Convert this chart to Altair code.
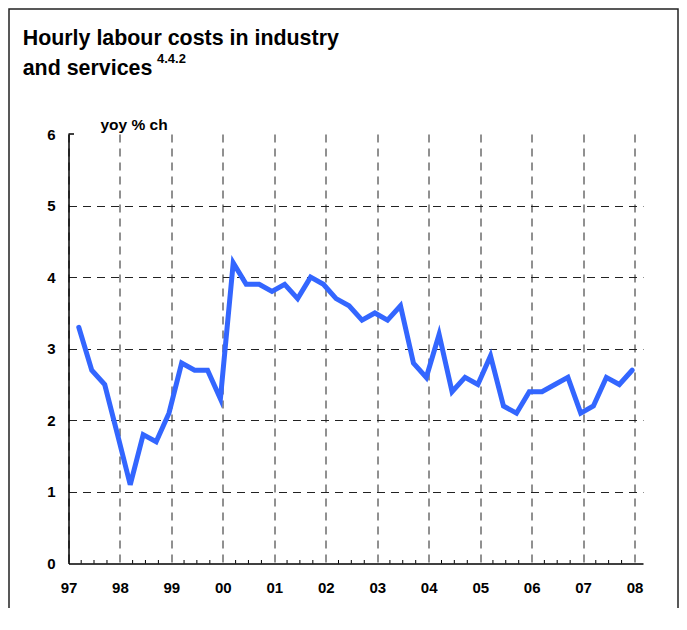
import altair as alt
import pandas as pd

# ---- data -------------------------------------------------------------
years = list(range(1997, 2008))
quarters = [f"{y}Q{q}" for y in years for q in (1, 2, 3, 4)]
values = [3.3, 2.7, 2.5, 1.8, 1.1, 1.8, 1.7, 2.1, 2.8, 2.7, 2.7, 2.3,
          4.2, 3.9, 3.9, 3.8, 3.9, 3.7, 4.0, 3.9, 3.7, 3.6, 3.4, 3.5,
          3.4, 3.6, 2.8, 2.6, 3.2, 2.4, 2.6, 2.5, 2.9, 2.2, 2.1, 2.4,
          2.4, 2.5, 2.6, 2.1, 2.2, 2.6, 2.5, 2.7]
year_labels = list(range(1997, 2009))
y_ticks = [0, 1, 2, 3, 4, 5, 6]

title_lines = ["Hourly labour costs in industry", "and services"]
title_sup = "4.4.2"
unit_label = "yoy % ch"


def q_date(label):
    y, q = label.split("Q")
    return f"{y}-{3 * int(q):02d}-15"


df = pd.DataFrame({"date": [q_date(q) for q in quarters], "value": values})
tick_dates = [f"{y}-{m:02d}-01" for y in years for m in (4, 7, 10)]
df_ticks = pd.DataFrame({"date": tick_dates})
df_top = pd.DataFrame({"value": [6]})

# ---- layout ------------------------------------------------------------
W, H = 574.5, 429.5
FONT = "Liberation Sans"
BLUE = "#3366FF"
GRID = "#222222"

xscale = alt.Scale(domain=[alt.DateTime(year=1997, month=1, date=1),
                           alt.DateTime(year=2008, month=3, date=1)])
yscale = alt.Scale(domain=[0, 6], nice=False, zero=True)

x_axis = alt.Axis(
    values=[alt.DateTime(year=y, month=1, date=1) for y in year_labels],
    format="%y", title=None, labelAngle=0, labelFlush=False,
    labelFont=FONT, labelFontSize=15, labelFontWeight="bold", labelColor="black",
    labelPadding=17, labelOverlap=False,
    ticks=False, domainColor="black", domainWidth=1.5,
    grid=True, gridDash=[8, 6], gridColor=GRID, gridWidth=1,
)
y_axis = alt.Axis(
    values=y_ticks, format="d", title=unit_label, titleAngle=0, titleX=31.5, titleY=-4.7,
    titleAlign="left", titleBaseline="alphabetic", titleFont=FONT,
    titleFontSize=15.5, titleFontWeight="bold", titleColor="black",
    labelFont=FONT, labelFontSize=15, labelFontWeight="bold", labelColor="black",
    labelPadding=13.5, ticks=False, domainColor="black", domainWidth=1.5,
    grid=True, gridDash=[8, 6], gridColor=GRID, gridWidth=1,
    gridOpacity={"condition": {"test": "datum.value == 6 || datum.value == 0", "value": 0}, "value": 1},
)

line = alt.Chart(df).mark_line(
    color=BLUE, strokeWidth=5, strokeJoin="miter", strokeCap="round"
).encode(
    x=alt.X("date:T", scale=xscale, axis=x_axis),
    y=alt.Y("value:Q", scale=yscale, axis=y_axis),
)

qticks = alt.Chart(df_ticks).mark_rule(color="black", strokeWidth=1).encode(
    x=alt.X("date:T"),
    y=alt.value(H),
    y2=alt.value(H - 3.5),
)

top_tick = alt.Chart(df_top).mark_rule(color="black", strokeWidth=1.5).encode(
    y=alt.Y("value:Q"),
    x=alt.value(0),
    x2=alt.value(5.5),
)

t1 = alt.Chart(df_top).mark_text(
    text=title_lines[0], font=FONT, fontSize=21.4, fontWeight="bold",
    align="left", baseline="alphabetic", color="black"
).encode(x=alt.value(-45.8), y=alt.value(-89))
t2 = alt.Chart(df_top).mark_text(
    text=title_lines[1], font=FONT, fontSize=21.4, fontWeight="bold",
    align="left", baseline="alphabetic", color="black"
).encode(x=alt.value(-45.8), y=alt.value(-59.5))
t3 = alt.Chart(df_top).mark_text(
    text=title_sup, font=FONT, fontSize=13, fontWeight="bold",
    align="left", baseline="alphabetic", color="black"
).encode(x=alt.value(88.5), y=alt.value(-70.7))

frame = alt.Chart(df_top).mark_rect(
    fill="white", fillOpacity=0, stroke="#222222", strokeWidth=1.5
).encode(x=alt.value(-59.5), y=alt.value(-125), x2=alt.value(609.5), y2=alt.value(700))

chart = alt.layer(frame, qticks, line, top_tick, t1, t2, t3).properties(
    width=W, height=H,
    autosize=alt.AutoSizeParams(type="none"),
    padding={"left": 60.5, "top": 126, "right": 36, "bottom": 44},
    background="white",
).configure_view(stroke=None)

chart.save("out.html", embed_options={"renderer": "svg", "actions": False})
